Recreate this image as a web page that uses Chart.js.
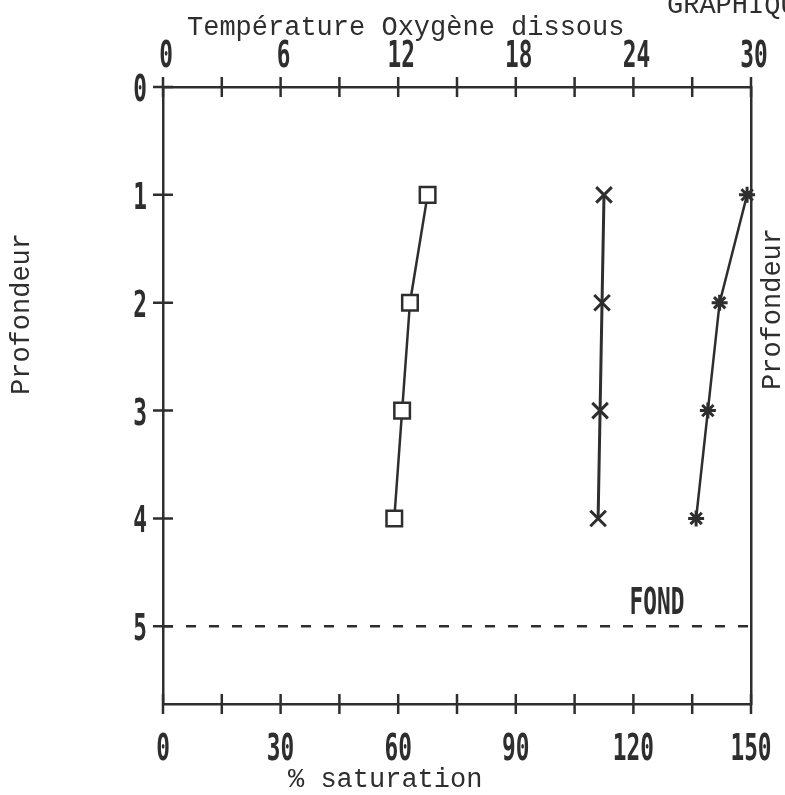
<!DOCTYPE html>
<html>
<head>
<meta charset="utf-8">
<script src="https://cdn.jsdelivr.net/npm/chart.js@4.4.1/dist/chart.umd.min.js"></script>
<style>
  html, body { margin: 0; padding: 0; background: #fff; }
  #wrap { width: 785px; height: 795px; }
</style>
</head>
<body>
<div id="wrap"><canvas id="profil"></canvas></div>
<script>
// profondeur (m) des mesures
const depths = [1, 2, 3, 4];
// échelle du haut (0-30)
const temperature = [13.5, 12.6, 12.2, 11.8];
const oxygene = [22.5, 22.4, 22.3, 22.2];
// échelle du bas (0-150)
const saturation = [149, 142, 139, 136];
// ligne du fond
const fondDepth = 5;
const fondRange = [0, 150];

const topLabels = [0, 6, 12, 18, 24, 30];
const bottomLabels = [0, 30, 60, 90, 120, 150];
const depthLabels = [0, 1, 2, 3, 4, 5];
const depthMax = 5.72;

const ink = '#2e2e2e';
const border = { display: true, color: ink, width: 2.5 };

const pts = (xs) => xs.map((v, i) => ({ x: v, y: depths[i] }));

// chiffres étroits façon imprimante
function digits(ctx, txt, px, py, align) {
  ctx.save();
  ctx.translate(px, py);
  ctx.scale(0.6, 1);
  ctx.font = 'bold 38px "DejaVu Sans Mono"';
  ctx.textAlign = align;
  ctx.textBaseline = 'alphabetic';
  ctx.fillText(txt, 0, 0);
  ctx.restore();
}

// croix des graduations, étiquettes + textes libres
const decor = {
  id: 'decor',
  afterDraw(chart) {
    const ctx = chart.ctx;
    const { x, x2, y } = chart.scales;
    ctx.save();
    ctx.strokeStyle = ink;
    ctx.lineWidth = 2.5;
    ctx.beginPath();
    x.ticks.forEach(t => { const p = x.getPixelForValue(t.value); ctx.moveTo(p, x.bottom - 10); ctx.lineTo(p, x.bottom + 10); });
    x2.ticks.forEach(t => { const p = x2.getPixelForValue(t.value); ctx.moveTo(p, x2.top - 10); ctx.lineTo(p, x2.top + 10); });
    y.ticks.forEach(t => { const p = y.getPixelForValue(t.value); ctx.moveTo(y.right - 10, p); ctx.lineTo(y.right + 10, p); });
    ctx.stroke();

    ctx.fillStyle = ink;
    topLabels.forEach(v => digits(ctx, String(v), x.getPixelForValue(v) + 3, x.bottom - 20, 'center'));
    bottomLabels.forEach(v => digits(ctx, String(v), x2.getPixelForValue(v), x2.top + 56, 'center'));
    depthLabels.forEach(v => digits(ctx, String(v), y.right - 16, y.getPixelForValue(v) + 14, 'right'));

    ctx.font = '27px "Liberation Mono"';
    ctx.textAlign = 'left';
    ctx.textBaseline = 'alphabetic';
    ctx.fillText('Température Oxygène dissous', 187, 35);
    ctx.fillText('% saturation', 288, 787);
    ctx.fillText('GRAPHIQUE', 667, 13);

    ctx.textAlign = 'center';
    ctx.textBaseline = 'middle';
    [[22, 314], [773, 309]].forEach(([cx, cy]) => {
      ctx.save();
      ctx.translate(cx, cy);
      ctx.rotate(-Math.PI / 2);
      ctx.fillText('Profondeur', 0, 0);
      ctx.restore();
    });

    digits(ctx, 'FOND', 657, y.getPixelForValue(fondDepth) - 12, 'center');
    ctx.restore();
  }
};

const noPad = s => { s.paddingLeft = 0; s.paddingRight = 0; s.paddingTop = 0; s.paddingBottom = 0; };

new Chart(document.getElementById('profil'), {
  type: 'scatter',
  data: {
    datasets: [
      {
        label: 'Température',
        data: pts(temperature),
        xAxisID: 'x', yAxisID: 'y',
        showLine: true, clip: false,
        borderColor: ink, borderWidth: 2.5,
        pointStyle: 'rect', pointRadius: 11,
        pointBackgroundColor: '#fff', pointBorderColor: ink, pointBorderWidth: 2.5
      },
      {
        label: 'Oxygène dissous',
        data: pts(oxygene),
        xAxisID: 'x', yAxisID: 'y',
        showLine: true, clip: false,
        borderColor: ink, borderWidth: 3,
        pointStyle: 'crossRot', pointRadius: 11,
        pointBorderColor: ink, pointBorderWidth: 3
      },
      {
        label: '% saturation',
        data: pts(saturation),
        xAxisID: 'x2', yAxisID: 'y',
        showLine: true, clip: false,
        borderColor: ink, borderWidth: 2.5,
        pointStyle: 'star', pointRadius: 8,
        pointBorderColor: ink, pointBorderWidth: 3
      },
      {
        label: 'Fond',
        data: fondRange.map(v => ({ x: v, y: fondDepth })),
        xAxisID: 'x2', yAxisID: 'y',
        showLine: true,
        borderColor: ink, borderWidth: 2.5, borderDash: [10, 13],
        pointRadius: 0
      }
    ]
  },
  options: {
    responsive: true,
    maintainAspectRatio: false,
    animation: false,
    layout: { padding: 0 },
    plugins: { legend: { display: false }, tooltip: { enabled: false } },
    scales: {
      x: {
        type: 'linear', position: 'top', min: 0, max: 30,
        afterFit: s => { s.height = 87; noPad(s); },
        grid: { display: false }, border,
        ticks: { stepSize: 3, display: false }
      },
      x2: {
        type: 'linear', position: 'bottom', min: 0, max: 150,
        afterFit: s => { s.height = 91; noPad(s); },
        grid: { display: false }, border,
        ticks: { stepSize: 15, display: false }
      },
      y: {
        type: 'linear', position: 'left', reverse: true, min: 0, max: depthMax,
        afterFit: s => { s.width = 163; noPad(s); },
        grid: { display: false }, border,
        ticks: { stepSize: 1, includeBounds: false, display: false }
      },
      y2: {
        type: 'linear', position: 'right', reverse: true, min: 0, max: depthMax,
        afterFit: s => { s.width = 34; noPad(s); },
        grid: { display: false }, border,
        ticks: { display: false }
      }
    }
  },
  plugins: [decor]
});
</script>
</body>
</html>
